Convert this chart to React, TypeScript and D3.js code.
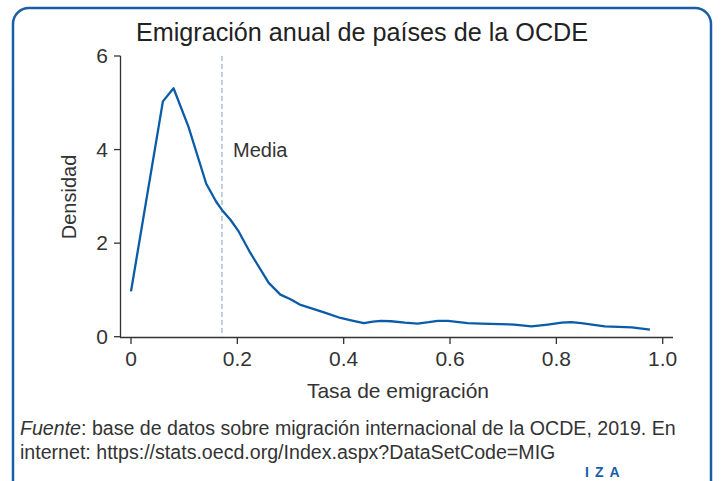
import React from "react";
import * as d3 from "d3";

const rates = [0, 0.06, 0.08, 0.108, 0.1415, 0.16, 0.171, 0.187, 0.2025, 0.2245, 0.259, 0.281, 0.3, 0.319, 0.344, 0.363, 0.394, 0.418, 0.438, 0.455, 0.47, 0.489, 0.515, 0.539, 0.56, 0.577, 0.596, 0.633, 0.658, 0.721, 0.753, 0.784, 0.81, 0.828, 0.847, 0.891, 0.942, 0.976];
const density = [0.97, 5.03, 5.31, 4.49, 3.27, 2.89, 2.71, 2.5, 2.25, 1.79, 1.15, 0.9, 0.8, 0.68, 0.59, 0.52, 0.4, 0.34, 0.29, 0.32, 0.34, 0.33, 0.3, 0.28, 0.31, 0.34, 0.34, 0.29, 0.28, 0.26, 0.22, 0.26, 0.3, 0.31, 0.29, 0.22, 0.2, 0.15];
const meanRate = 0.171;
const xTicks = [0, 0.2, 0.4, 0.6, 0.8, 1.0];
const yTicks = [0, 2, 4, 6];

const W = 721;
const H = 481;
const font = "'Liberation Sans', Arial, sans-serif";
const textColor = "#333";
const blue = "#1a5ea8";

export default function App() {
  const x = d3.scaleLinear().domain([0, 1]).range([131, 662.7]);
  const y = d3.scaleLinear().domain([0, 6]).range([336.7, 56]);
  const pts: [number, number][] = rates.map((r, i) => [r, density[i]]);
  const line = d3
    .line<[number, number]>()
    .x((d) => x(d[0]))
    .y((d) => y(d[1]));

  return (
    <svg width={W} height={H} style={{ position: "absolute", left: 0, top: 0 }}>
      <rect x={0} y={0} width={W} height={H} fill="#fff" />
      <rect x={13} y={8} width={698} height={500} rx={16} fill="none" stroke={blue} strokeWidth={2.5} />
      <text x={362} y={41} textAnchor="middle" fontFamily={font} fontSize={25.2} fill="#222">
        Emigración anual de países de la OCDE
      </text>

      {/* axes */}
      <line x1={120.5} x2={120.5} y1={56} y2={337.5} stroke="#333" strokeWidth={1.3} />
      <line x1={120} x2={673} y1={337.5} y2={337.5} stroke="#333" strokeWidth={1.3} />
      {yTicks.map((t) => (
        <g key={t}>
          <line x1={114} x2={120.5} y1={y(t)} y2={y(t)} stroke="#333" strokeWidth={1.3} />
          <text x={108} y={y(t) + 7} textAnchor="end" fontFamily={font} fontSize={21} fill={textColor}>
            {t}
          </text>
        </g>
      ))}
      {xTicks.map((t) => (
        <g key={t}>
          <line x1={x(t)} x2={x(t)} y1={337.5} y2={344} stroke="#333" strokeWidth={1.3} />
          <text x={x(t)} y={366} textAnchor="middle" fontFamily={font} fontSize={21} fill={textColor}>
            {t === 0 ? "0" : t.toFixed(1)}
          </text>
        </g>
      ))}
      <text
        transform={`translate(76,197) rotate(-90)`}
        textAnchor="middle"
        fontFamily={font}
        fontSize={20}
        fill={textColor}
      >
        Densidad
      </text>
      <text x={398} y={398} textAnchor="middle" fontFamily={font} fontSize={21} fill={textColor}>
        Tasa de emigración
      </text>

      {/* mean */}
      <line x1={x(meanRate)} x2={x(meanRate)} y1={56} y2={337} stroke="#a9c3de" strokeWidth={1.5} strokeDasharray="5,3" />
      <text x={233} y={157} fontFamily={font} fontSize={20} fill={textColor}>
        Media
      </text>

      <path d={line(pts) ?? ""} fill="none" stroke="#0b5ca8" strokeWidth={2.3} strokeLinejoin="round" />

      {/* source */}
      <text x={20} y={435} fontFamily={font} fontSize={19.6} fill={textColor}>
        <tspan fontStyle="italic">Fuente</tspan>: base de datos sobre migración internacional de la OCDE, 2019. En
      </text>
      <text x={20} y={459} fontFamily={font} fontSize={19.6} fill={textColor}>
        internet: https://stats.oecd.org/Index.aspx?DataSetCode=MIG
      </text>
      <text x={585} y={477} fontFamily={font} fontWeight="bold" fontSize={14} fill={blue} letterSpacing={6}>
        IZA
      </text>
    </svg>
  );
}
